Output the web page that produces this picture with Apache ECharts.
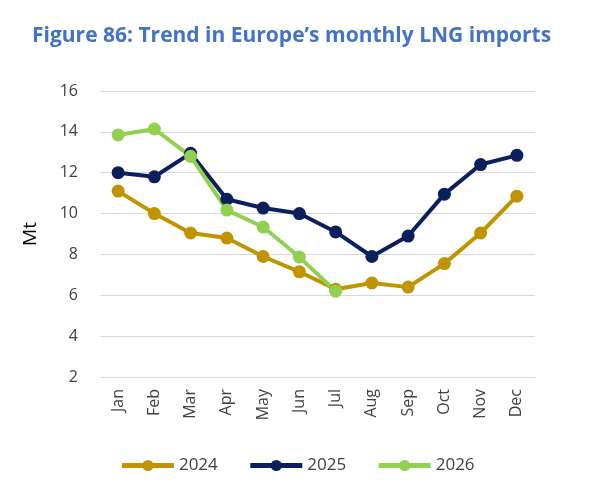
<!DOCTYPE html>
<html><head><meta charset="utf-8">
<script src="https://cdn.jsdelivr.net/npm/echarts@6/dist/echarts.min.js"></script>
<style>html,body{margin:0;padding:0;background:#fff}#c{width:594px;height:493px}</style>
</head><body><div id="c"></div>
<script>
var months = ['Jan','Feb','Mar','Apr','May','Jun','Jul','Aug','Sep','Oct','Nov','Dec'];
var y2024 = [11.1, 10.0, 9.05, 8.8, 7.9, 7.15, 6.3, 6.6, 6.4, 7.55, 9.05, 10.85];
var y2025 = [12.0, 11.8, 12.95, 10.7, 10.27, 10.0, 9.1, 7.9, 8.9, 10.95, 12.4, 12.85];
var y2026 = [13.85, 14.14, 12.8, 10.17, 9.34, 7.87, 6.2];

function line(name, data, color) {
  return { name: name, type: 'line', data: data, symbol: 'circle', symbolSize: 13,
    itemStyle: { color: color }, lineStyle: { color: color, width: 4 } };
}

var chart = echarts.init(document.getElementById('c'));
chart.setOption({
  animation: false,
  title: { text: 'Figure 86: Trend in Europe\u2019s monthly LNG imports', left: 27, top: 21,
    textStyle: { color: '#4472C4', fontSize: 21, fontWeight: 'bold', fontFamily: 'Open Sans' } },
  legend: { bottom: 14, left: 'center', itemWidth: 52, itemHeight: 14, itemGap: 30,
    lineStyle: { width: 5 },
    textStyle: { fontSize: 17, color: '#404040', fontFamily: 'Open Sans' },
    data: ['2024', '2025', '2026'] },
  grid: { left: 100, right: 59, top: 91, bottom: 116 },
  xAxis: { type: 'category', data: months, boundaryGap: true,
    axisLine: { lineStyle: { color: '#d9d9d9' } }, axisTick: { show: false },
    axisLabel: { rotate: 90, color: '#404040', fontSize: 16, fontFamily: 'Open Sans', margin: 12 } },
  yAxis: { type: 'value', min: 2, max: 16, interval: 2, name: 'Mt', nameLocation: 'middle', nameGap: 60,
    nameTextStyle: { fontSize: 19, color: '#000', fontFamily: 'Open Sans' },
    axisLine: { show: false }, axisTick: { show: false },
    splitLine: { lineStyle: { color: '#d9d9d9' } },
    axisLabel: { color: '#404040', fontSize: 16, fontFamily: 'Open Sans', margin: 22 } },
  series: [line('2024', y2024, '#C09400'), line('2025', y2025, '#0A1F5C'), line('2026', y2026, '#92D050')]
});
</script></body></html>
